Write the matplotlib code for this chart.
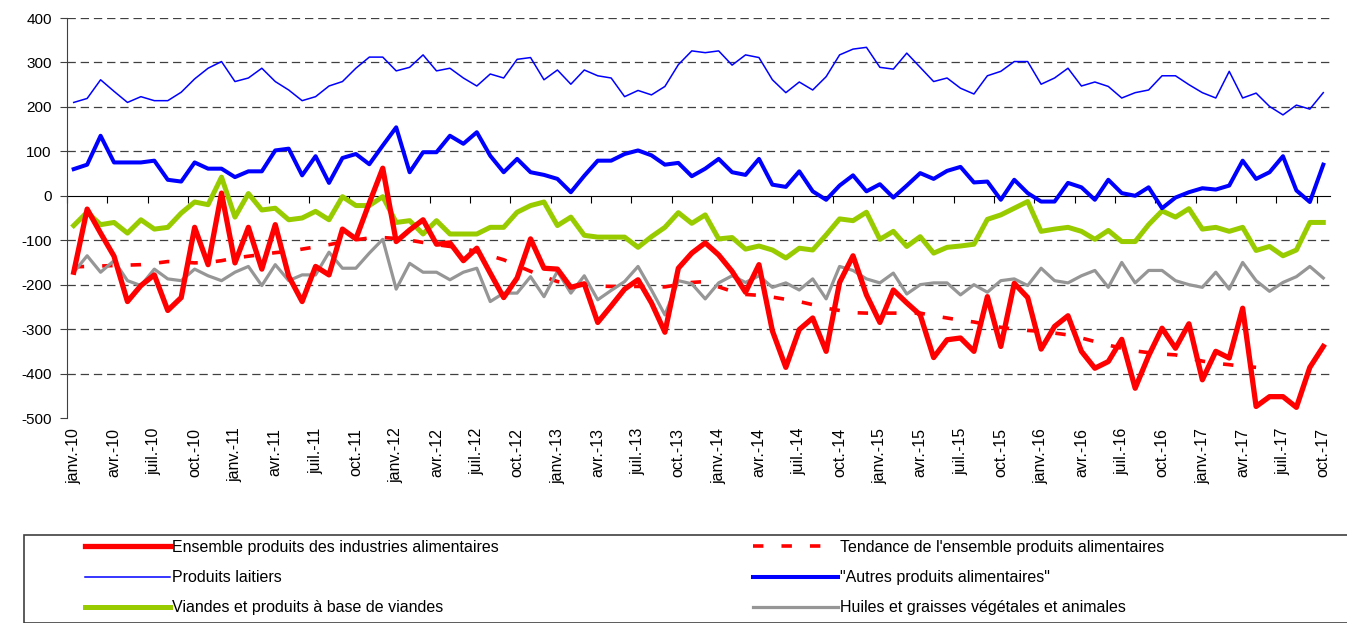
import numpy as np
import matplotlib
matplotlib.use("Agg")
import matplotlib.pyplot as plt
from matplotlib.patches import Rectangle

plt.rcParams['font.family'] = ['Liberation Sans', 'DejaVu Sans']
plt.rcParams['lines.scale_dashes'] = False

# months janv.-10 .. oct.-17
month_names = ['janv.', 'févr.', 'mars', 'avr.', 'mai', 'juin',
               'juil.', 'août', 'sept.', 'oct.', 'nov.', 'déc.']
months = [f"{month_names[m]}-{y:02d}" for y in range(10, 18) for m in range(12)][:94]

ensemble = [-172, -30, -84, -136, -238, -202, -178, -258, -229, -71,
            -155, 6, -151, -71, -165, -65, -181, -238, -159, -178,
            -75, -97, -16, 62, -103, -77, -54, -109, -106, -146,
            -118, -174, -229, -185, -97, -163, -165, -206, -198, -285,
            -248, -210, -189, -241, -307, -163, -129, -106, -133, -170,
            -217, -155, -304, -386, -301, -275, -350, -195, -135, -223,
            -285, -212, -241, -268, -364, -324, -320, -350, -227, -339,
            -197, -229, -345, -294, -270, -350, -388, -373, -323, -433,
            -360, -298, -343, -288, -414, -350, -365, -253, -474, -452,
            -452, -476, -386, -339]

tendance = [-160, -159, -158, -157, -156, -155, -152, -148, -149, -151,
            -150, -146, -140, -136, -132, -128, -125, -120, -115, -110,
            -104, -99, -95, -94, -96, -100, -105, -110, -114, -118,
            -126, -135, -144, -157, -170, -182, -193, -198, -201, -203,
            -204, -204, -204, -204, -205, -200, -195, -193, -205, -215,
            -222, -224, -228, -233, -238, -245, -253, -258, -263, -264,
            -264, -264, -264, -264, -270, -275, -280, -284, -290, -296,
            -300, -303, -305, -309, -313, -320, -328, -336, -343, -349,
            -353, -356, -358, -365, -372, -377, -380, -384, -386, np.nan,
            np.nan, np.nan, np.nan, np.nan]

laitiers = [210, 219, 261, 235, 210, 223, 214, 214, 233, 263,
            287, 302, 257, 265, 287, 257, 238, 214, 223, 247,
            257, 287, 312, 312, 281, 289, 317, 281, 287, 265,
            247, 274, 265, 307, 311, 261, 283, 251, 283, 270,
            265, 223, 237, 227, 246, 295, 326, 322, 326, 294,
            317, 311, 261, 232, 256, 238, 268, 317, 330, 334,
            289, 285, 321, 289, 257, 265, 242, 229, 270, 280,
            302, 302, 251, 265, 287, 247, 256, 246, 220, 232,
            238, 270, 270, 250, 232, 220, 280, 220, 231, 201,
            182, 204, 195, 232]

autres = [60, 70, 135, 75, 75, 75, 79, 36, 32, 75,
          61, 61, 42, 55, 55, 102, 106, 46, 89, 29,
          85, 94, 71, 113, 154, 53, 98, 98, 135, 117,
          143, 90, 53, 83, 53, 47, 38, 8, 45, 79,
          79, 94, 102, 91, 70, 74, 44, 61, 83, 53,
          47, 83, 25, 20, 55, 10, -9, 23, 46, 10,
          26, -4, 23, 51, 38, 56, 65, 30, 32, -9,
          36, 6, -13, -13, 29, 19, -9, 36, 6, 0,
          19, -28, -4, 8, 17, 14, 23, 79, 38, 53,
          89, 12, -14, 70]

viandes = [-67, -37, -65, -60, -84, -54, -75, -71, -39, -14,
           -20, 42, -48, 5, -32, -28, -54, -50, -35, -54,
           -2, -22, -22, -2, -60, -56, -86, -56, -86, -86,
           -86, -71, -71, -37, -22, -14, -67, -48, -89, -93,
           -93, -93, -116, -92, -71, -38, -62, -43, -97, -94,
           -120, -113, -122, -140, -118, -122, -88, -52, -56, -37,
           -98, -80, -114, -92, -129, -116, -113, -109, -53, -43,
           -28, -13, -80, -75, -71, -80, -98, -78, -103, -103,
           -65, -34, -48, -29, -75, -71, -80, -71, -123, -114,
           -135, -122, -60, -60]

huiles = [-172, -135, -172, -146, -191, -202, -165, -187, -191, -165,
          -180, -191, -172, -159, -202, -155, -191, -178, -178, -127,
          -163, -163, -129, -98, -210, -152, -172, -172, -189, -172,
          -163, -238, -219, -219, -182, -227, -170, -219, -180, -234,
          -213, -193, -159, -212, -268, -191, -198, -232, -196, -180,
          -195, -180, -206, -196, -212, -187, -232, -159, -168, -187,
          -196, -174, -221, -200, -196, -196, -223, -200, -217, -191,
          -187, -202, -163, -191, -196, -180, -168, -206, -150, -196,
          -168, -168, -191, -200, -206, -172, -210, -150, -191, -215,
          -195, -182, -159, -185]

yticks = list(range(-500, 401, 100))

fig = plt.figure(figsize=(13.47, 6.23), dpi=100)
ax = fig.add_axes([67 / 1347, 1 - 418 / 623, (1330 - 67) / 1347, 400 / 623])

x = np.arange(len(months))
red = '#FF0000'
blue = '#0000FF'
green = '#99CC00'
grey = '#969696'

# horizontal dashed grid (not at 0 / -500)
for v in yticks:
    if v not in (0, -500):
        ax.axhline(v, color='#404040', lw=0.9, linestyle=(0, (6, 3.5)), zorder=0)

l_tend, = ax.plot(x, tendance, color=red, lw=2.6, linestyle=(0, (7.5, 13)), zorder=2)
l_huil, = ax.plot(x, huiles, color=grey, lw=2.3, zorder=3)
l_vian, = ax.plot(x, viandes, color=green, lw=3.6, zorder=4)
l_autr, = ax.plot(x, autres, color=blue, lw=2.9, zorder=5)
l_lait, = ax.plot(x, laitiers, color=blue, lw=1.1, zorder=6)
l_ens, = ax.plot(x, ensemble, color=red, lw=3.8, zorder=7)

ax.set_xlim(-0.5, len(months) - 0.5)
ax.set_ylim(-500, 400)
ax.set_yticks(yticks)
ax.set_yticklabels([str(v) for v in yticks], fontsize=11)
ax.tick_params(axis='y', length=5, color='#404040', pad=6)

ax.set_xticks(x[::3])
ax.set_xticklabels(months[::3], rotation=90, fontsize=11.5)
ax.tick_params(axis='x', length=0, pad=7)

for s in ['top', 'right', 'bottom']:
    ax.spines[s].set_visible(False)
ax.spines['left'].set_color('#404040')

# category axis drawn at zero
sec = ax.secondary_xaxis(5 / 9)
sec.set_xticks(np.arange(-0.5, len(months), 3))
sec.set_xticklabels([])
sec.tick_params(axis='x', direction='in', length=5, color='black')
sec.spines['bottom'].set_color('black')
sec.spines['top'].set_color('black')

# legend box, partly cut by the figure edge
fig.patches.append(Rectangle((24 / 1347, 0), 1.1, 1 - 535 / 623, transform=fig.transFigure,
                             fill=False, edgecolor='#404040', lw=1.2))

leg_kw = dict(loc='upper left', frameon=False, fontsize=11.5, handlelength=5.3,
              handletextpad=0.15, labelspacing=0.95, borderaxespad=0, borderpad=0)
leg1 = fig.legend([l_ens, l_lait, l_vian],
                  ["Ensemble produits des industries alimentaires", "Produits laitiers",
                   "Viandes et produits à base de viandes"],
                  bbox_to_anchor=(85 / 1347, 1 - 540 / 623), **leg_kw)
leg2 = fig.legend([l_tend, l_autr, l_huil],
                  ["Tendance de l'ensemble produits alimentaires", '"Autres produits alimentaires"',
                   "Huiles et graisses végétales et animales"],
                  bbox_to_anchor=(753 / 1347, 1 - 540 / 623), **leg_kw)

fig.savefig('out.png', dpi=100)
